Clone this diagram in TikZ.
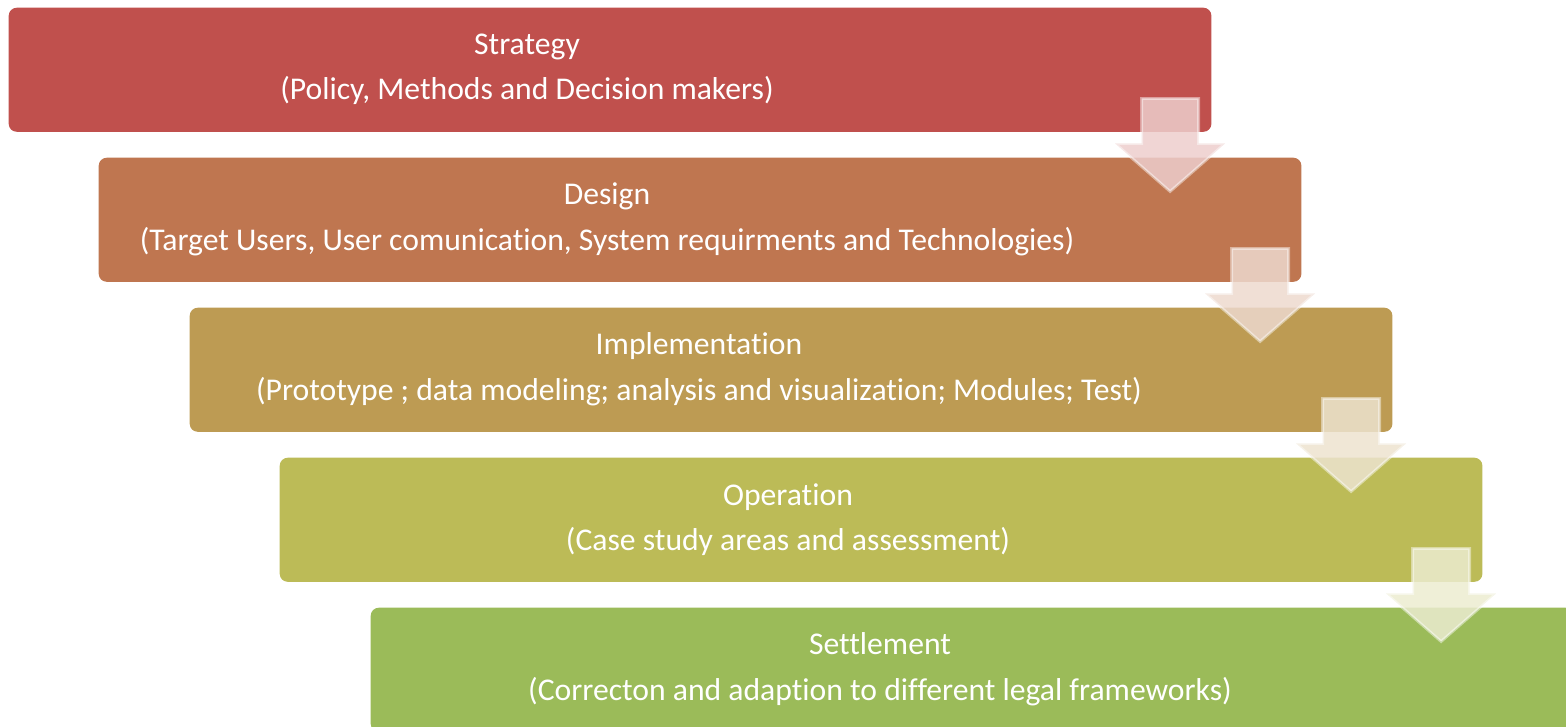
\documentclass[tikz,border=0pt]{standalone}
\usepackage{fontspec}
\setmainfont{Carlito}[Ligatures={NoCommon}]
\usetikzlibrary{calc}
\definecolor{cStrat}{HTML}{C0504D}
\definecolor{cDesign}{HTML}{BF7650}
\definecolor{cImpl}{HTML}{BD9B53}
\definecolor{cOper}{HTML}{BCBB57}
\definecolor{cSettle}{HTML}{9BBB59}
\begin{document}
\begin{tikzpicture}[x=0.01cm,y=-0.01cm,
  stage/.style={draw=none, fill=#1, rounded corners=0.08cm, minimum width=12.02cm,
    minimum height=1.24cm, inner sep=0pt, anchor=north west},
  caption/.style={text=white, font=\fontsize{9}{11}\selectfont, anchor=base, inner sep=0pt},
  flow/.style={fill=#1!28!white, fill opacity=0.85, draw=white, draw opacity=0.45,
    line width=0.8pt, line join=miter}]
\clip (0,0) rectangle (1566,726);

% stacked process stages
\node[stage=cStrat]  (s1) at (8,7)   {};
\node[stage=cDesign] (s2) at (98,157) {};
\node[stage=cImpl]   (s3) at (189,307) {};
\node[stage=cOper]   (s4) at (279,457) {};
\node[stage=cSettle] (s5) at (370,607) {};

% stage titles and descriptions
\node[caption] (h1) at ($(s1.north west)+(519,47)$) {Strategy};
\node[caption] (d1) at ($(s1.north west)+(519,92)$) {(Policy, Methods and Decision makers)};
\node[caption] (h2) at ($(s2.north west)+(509,47)$) {Design};
\node[caption] (d2) at ($(s2.north west)+(509,93)$) {(Target Users, User comunication, System requirments and Technologies)};
\node[caption] (h3) at ($(s3.north west)+(510,47)$) {Implementation};
\node[caption] (d3) at ($(s3.north west)+(510,93)$) {(Prototype ; data modeling; analysis and visualization; Modules; Test)};
\node[caption] (h4) at ($(s4.north west)+(509,48)$) {Operation};
\node[caption] (d4) at ($(s4.north west)+(509,93)$) {(Case study areas and assessment)};
\node[caption] (h5) at ($(s5.north west)+(510,47)$) {Settlement};
\node[caption] (d5) at ($(s5.north west)+(510,93)$) {(Correcton and adaption to different legal frameworks)};

% down arrows linking consecutive stages
\foreach \u/\c in {s1/cStrat, s2/cDesign, s3/cImpl, s4/cOper} {
  \coordinate (a) at ($(\u.south east)+(-42,-34)$);
  \draw[flow=\c] ($(a)+(-28.5,0)$) -- ($(a)+(28.5,0)$) -- ($(a)+(28.5,45)$)
    -- ($(a)+(55,45)$) -- ($(a)+(0,93)$) -- ($(a)+(-55,45)$)
    -- ($(a)+(-28.5,45)$) -- cycle;
}
\end{tikzpicture}
\end{document}
